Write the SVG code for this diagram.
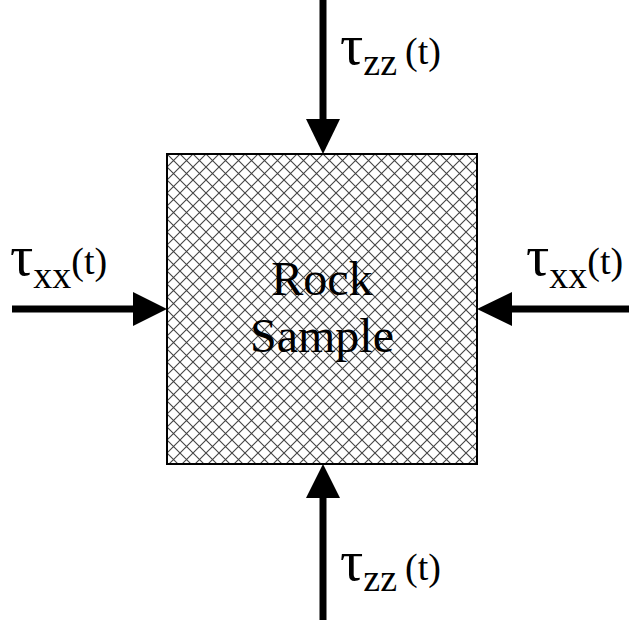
<svg xmlns="http://www.w3.org/2000/svg" width="629" height="628" viewBox="0 0 629 628">
<style>
.lbl{font-family:"Liberation Serif","Times New Roman",serif;fill:#000}
.big{font-size:48px}
.tau{font-size:58px}
.sub{font-size:38px}
.par{font-size:38px}
.shaft{stroke:#000;stroke-width:7;fill:none}
.head{fill:#000}
</style>
<defs>
<pattern id="hatch" width="13" height="13" patternUnits="userSpaceOnUse" x="167" y="154">
<rect width="13" height="13" fill="#fff"/>
<path d="M0,0 L13,13 M13,0 L0,13" stroke="#444" stroke-width="1.1"/>
</pattern>
</defs>
<rect width="629" height="628" fill="#fff"/>
<g id="rock-sample">
<rect x="167" y="154" width="310" height="310" fill="url(#hatch)" stroke="#000" stroke-width="2"/>
<text class="lbl big" x="322" y="295" text-anchor="middle">Rock</text>
<text class="lbl big" x="322" y="352" text-anchor="middle">Sample</text>
</g>
<g id="connectors">
<line class="shaft" x1="323" y1="0" x2="323" y2="120"/>
<polygon class="head" points="306,119 340,119 323,154"/>
<line class="shaft" x1="323" y1="497" x2="323" y2="620"/>
<polygon class="head" points="323,464 306,498 340,498"/>
<line class="shaft" x1="12" y1="309" x2="134" y2="309"/>
<polygon class="head" points="133,292 133,326 167,309"/>
<line class="shaft" x1="511" y1="309" x2="629" y2="309"/>
<polygon class="head" points="477,309 512,292 512,326"/>
</g>
<g id="label-top">
<text class="lbl" x="340" y="64"><tspan class="tau">τ</tspan><tspan class="sub" dy="11">zz</tspan><tspan class="par" x="405" dy="-11">(t)</tspan></text>
</g>
<g id="label-left">
<text class="lbl" x="10" y="275"><tspan class="tau">τ</tspan><tspan class="sub" dy="13">xx</tspan><tspan class="par" dy="-14">(t)</tspan></text>
</g>
<g id="label-right">
<text class="lbl" x="526" y="275"><tspan class="tau">τ</tspan><tspan class="sub" dy="13">xx</tspan><tspan class="par" dy="-14">(t)</tspan></text>
</g>
<g id="label-bottom">
<text class="lbl" x="340" y="580"><tspan class="tau">τ</tspan><tspan class="sub" dy="11">zz</tspan><tspan class="par" x="405" dy="-11">(t)</tspan></text>
</g>
</svg>
